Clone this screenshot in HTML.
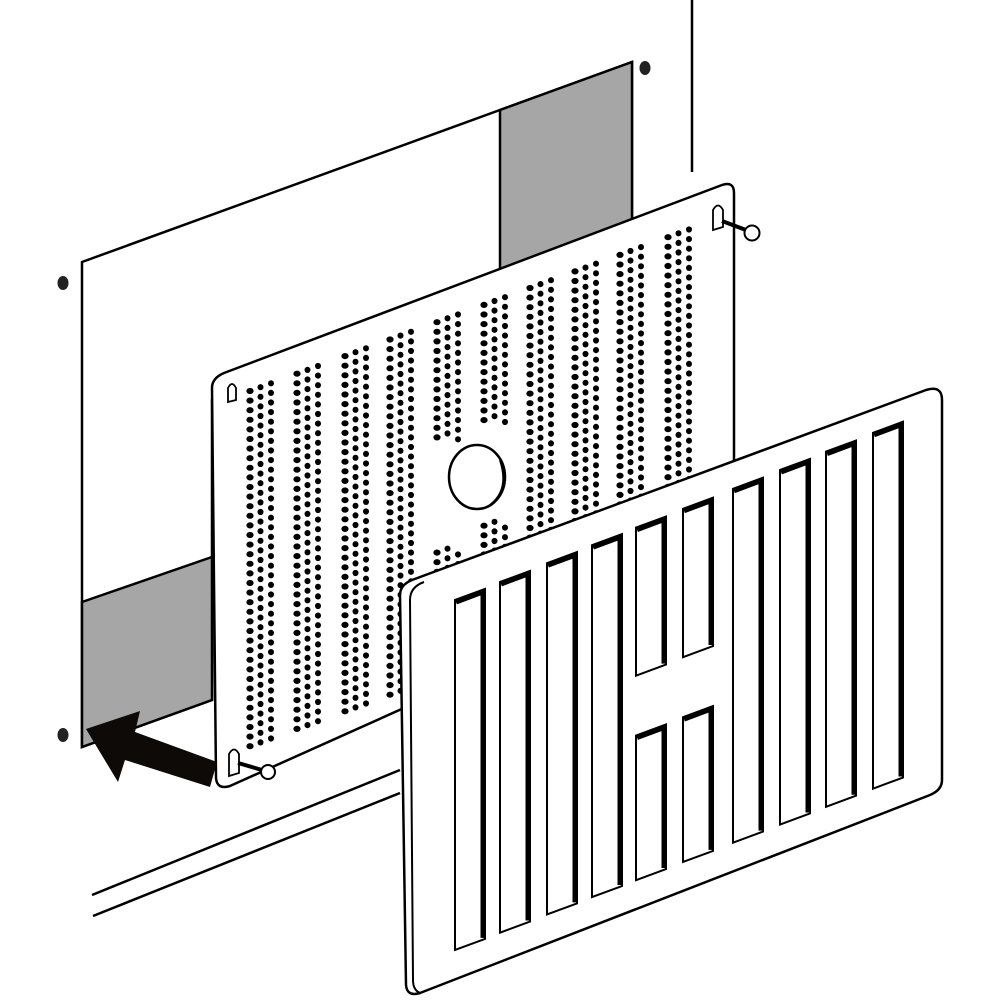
<!DOCTYPE html>
<html><head><meta charset="utf-8"><style>html,body{margin:0;padding:0;background:#fff}svg{display:block}</style></head>
<body>
<svg id="s" width="1000" height="1000" viewBox="0 0 1000 1000" xmlns="http://www.w3.org/2000/svg">
<rect width="1000" height="1000" fill="#fff"/>
<line x1="692" y1="0" x2="692" y2="172" stroke="#000" stroke-width="2.5"/>
<polygon points="82,262 632,62 632,240 212,400 212,700 82,747" fill="#fff" stroke="#000" stroke-width="2.5"/>
<polygon points="500,110 632,62 632,222 500,271" fill="#a6a6a6" stroke="#000" stroke-width="2.5"/>
<polygon points="82,602 212,557 212,700 82,747" fill="#a6a6a6" stroke="#000" stroke-width="2.5"/>
<ellipse cx="63" cy="283" rx="5.5" ry="7" fill="#222"/>
<ellipse cx="645" cy="68" rx="5.5" ry="7" fill="#222"/>
<ellipse cx="63" cy="735" rx="5.5" ry="7" fill="#222"/>
<line x1="92" y1="895" x2="400" y2="770" stroke="#000" stroke-width="2.5"/>
<line x1="93" y1="916" x2="400" y2="793" stroke="#000" stroke-width="2.5"/>
<path d="M224,373 L722,185 Q734,181 734,193 L734,560 L230,786 Q217,790 216,778 L212,388 Q212,378 224,373 Z" fill="#fff" stroke="#000" stroke-width="2.5"/>
<g id="dots" fill="#000"></g>
<ellipse cx="477" cy="477" rx="28" ry="32" fill="#fff" stroke="#000" stroke-width="2.5"/>
<path d="M500,460 Q510,490 490,505" fill="none" stroke="#000" stroke-width="2"/>
<path d="M228,402 L228,388 Q232,380 236,388 L236,400 Z" fill="#fff" stroke="#000" stroke-width="1.8"/>
<path d="M713,230 L713,210 Q718,201 723,210 L723,227 Z" fill="#fff" stroke="#000" stroke-width="1.8"/>
<path d="M229,776 L229,754 Q234,745 239,754 L239,773 Z" fill="#fff" stroke="#000" stroke-width="1.8"/>
<line x1="722" y1="221" x2="746" y2="230" stroke="#000" stroke-width="4"/>
<circle cx="752" cy="233" r="7.5" fill="#fff" stroke="#000" stroke-width="2"/>
<line x1="238" y1="763" x2="262" y2="770" stroke="#000" stroke-width="4"/>
<circle cx="268" cy="772" r="7" fill="#fff" stroke="#000" stroke-width="2"/>
<polygon points="86,729 140,711 135,732 217,762 210,787 125,760 118,782" fill="#0d0a08"/>
<path d="M412,580 L926,390 Q942,385 942,400 L942,780 Q942,790 930,795 L420,993 Q407,997 406,985 L400,595 Q400,585 412,580 Z" fill="#fff" stroke="#000" stroke-width="2.5"/>
<path d="M424,582 Q410,587 410,600 L413,980 Q413,990 420,993" fill="none" stroke="#000" stroke-width="2"/>
<g id="slats"></g>
</svg>
<script>
(function(){
var NS="http://www.w3.org/2000/svg";
var d=document.getElementById("dots");
var groups=[250,297,345,390,437,484,530,575,620,668];
function topY(x){return 377-0.368*(x-212);}
function botY(x){return 785-0.35*(x-218);}
groups.forEach(function(gx,gi){
 for(var c=0;c<3;c++){
  var x=gx+c*10.5;
  var t=topY(x)+28, b=botY(x)-22;
  for(var y=t;y<b;y+=9.6){
   if(gi==4 && y>440 && y<545) continue;
   if(gi==5 && y>425 && y<520) continue;
   var e=document.createElementNS(NS,"ellipse");
   e.setAttribute("cx",x.toFixed(1));e.setAttribute("cy",y.toFixed(1));
   e.setAttribute("rx",c==0?"3.6":"3");e.setAttribute("ry","3.1");
   d.appendChild(e);
  }
 }
});
var s=document.getElementById("slats");
var cols=[455,500,547,592,636,683,733,780,826,873];
function tY(x){return 600-0.4*(x-455);}
function bY(x){return 950-0.386*(x-455);}
function slat(x,t,b,w){
 var sl=-0.37;
 var p=document.createElementNS(NS,"polygon");
 p.setAttribute("points",[x,t,x+w,t+sl*w,x+w,b+sl*w,x,b].join(","));
 p.setAttribute("fill","#fff");p.setAttribute("stroke","#000");p.setAttribute("stroke-width","2");
 s.appendChild(p);
 var q=document.createElementNS(NS,"polyline");
 q.setAttribute("points",[x+1,t+2,x+w-2,t+sl*w+3,x+w-2,b+sl*w-1].join(","));
 q.setAttribute("fill","none");q.setAttribute("stroke","#000");q.setAttribute("stroke-width","5");
 s.appendChild(q);
}
cols.forEach(function(x,i){
 var w=30,t=tY(x),b=bY(x);
 if(i==4||i==5){
  var h=b-t;
  slat(x,t,t+h*0.42,w);
  slat(x,t+h*0.59,b,w);
 } else slat(x,t,b,w);
});
})();
</script>
</body></html>
